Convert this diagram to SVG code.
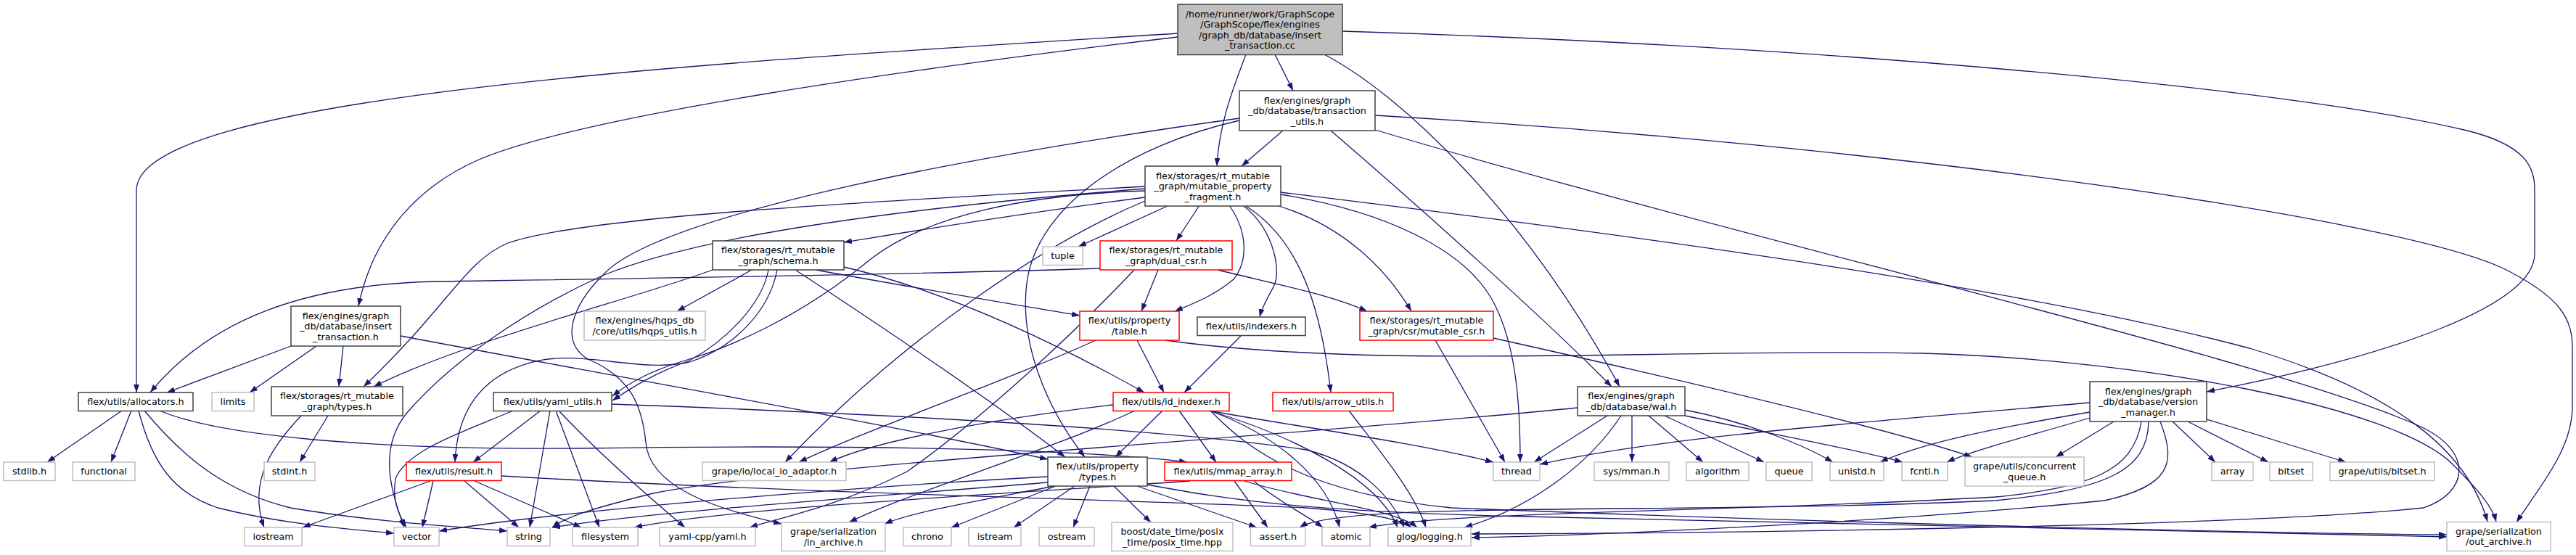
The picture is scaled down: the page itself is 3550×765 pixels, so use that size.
<svg xmlns="http://www.w3.org/2000/svg" width="3550" height="765" viewBox="0 0 3550 765">
<defs>
<marker id="a" markerWidth="11" markerHeight="8" refX="11" refY="4" orient="auto" markerUnits="userSpaceOnUse"><path d="M0,0 L11,4 L0,8 z" fill="#191970"/></marker>
<style>
rect{stroke-width:1.5}
.k{fill:#fff;stroke:#404040}
.g{fill:#fff;stroke:#bfbfbf}
.r{fill:#fff;stroke:#ff0000}
.root{fill:#bfbfbf;stroke:#404040}
text{font-family:"DejaVu Sans","Liberation Sans",sans-serif;font-size:12.8px;text-anchor:middle;fill:#000}
#edges path{fill:none;stroke:#191970;stroke-width:1.3;marker-end:url(#a)}
</style>
</defs>
<rect width="3550" height="765" fill="#fff"/>
<g id="edges">
<path d="M1623,46 C1000,85 188,130 188,262 L188,541"/>
<path d="M1623,51 C1250,95 800,160 660,220 C580,255 515,320 494,422"/>
<path d="M1757,75 L1782,125"/>
<path d="M1717,75 C1700,120 1680,170 1677,229"/>
<path d="M1825,75 C1930,130 2100,290 2232,533"/>
<path d="M1850,43 C2500,63 3150,120 3400,180 C3480,200 3493,230 3493,260 L3493,350 C3493,420 3300,490 3041,540"/>
<path d="M1768,180 L1711,229"/>
<path d="M1834,180 C1950,280 2130,440 2221,533"/>
<path d="M1895,159 C2600,200 3300,300 3450,370 C3530,410 3545,440 3545,480 L3545,560 C3545,620 3500,670 3468,720"/>
<path d="M1708,166 C1560,200 1430,280 1415,390 C1405,470 1440,560 1495,630"/>
<path d="M1708,163 C1300,220 900,300 830,380 C790,420 770,470 810,495 C870,520 885,560 890,610 C895,670 980,700 1077,722"/>
<path d="M1895,179 C2400,330 3150,500 3340,590 C3410,625 3400,680 3340,700 C3100,725 2400,735 2028,736"/>
<path d="M401,477 L230,541"/>
<path d="M436,477 L344,541"/>
<path d="M473,477 L467,533"/>
<path d="M552,463 C800,510 1200,580 1444,633"/>
<path d="M1578,272 C1400,295 1250,320 1163,334"/>
<path d="M1611,283 L1486,340"/>
<path d="M1653,283 L1621,332"/>
<path d="M1694,283 C1720,320 1720,360 1700,385 C1670,410 1640,420 1619,429"/>
<path d="M1713,283 C1760,320 1765,380 1755,395 C1748,410 1740,420 1736,437"/>
<path d="M1717,284 C1790,330 1820,420 1834,541"/>
<path d="M1759,283 C1850,310 1910,370 1945,429"/>
<path d="M1765,268 C1900,290 2020,340 2060,420 C2090,480 2095,560 2095,637"/>
<path d="M1765,265 C2300,330 2800,400 3100,480 C3300,540 3400,620 3428,719"/>
<path d="M1578,257 C1150,280 800,300 700,335 C640,360 620,420 501,533"/>
<path d="M1578,260 C1200,290 950,330 830,380 C720,430 620,500 560,570 C520,620 540,680 557,727"/>
<path d="M1578,263 C1420,268 1280,295 1200,357 C1100,440 1000,480 950,495 C900,510 870,525 844,546"/>
<path d="M1578,277 C1450,330 1250,460 1082,637"/>
<path d="M982,372 C880,410 640,470 515,533"/>
<path d="M1036,372 L933,429"/>
<path d="M1059,372 C1050,420 1000,470 950,497 C900,515 870,535 844,552"/>
<path d="M1071,372 C1060,430 1010,480 950,499 C880,515 800,480 730,500 C660,520 630,570 627,637"/>
<path d="M1096,372 C1200,440 1350,540 1468,630"/>
<path d="M1124,372 C1250,395 1400,420 1488,435"/>
<path d="M1163,368 C1300,400 1450,470 1577,541"/>
<path d="M1516,370 C1200,380 800,385 600,388 C420,392 290,440 207,541"/>
<path d="M1596,372 L1573,429"/>
<path d="M1678,372 C1750,390 1830,405 1884,429"/>
<path d="M1563,372 C1480,460 1350,580 1250,650 C1150,700 1080,712 1033,727"/>
<path d="M1510,469 C1400,520 1200,590 1101,637"/>
<path d="M1567,469 L1604,541"/>
<path d="M1606,469 C1900,510 2300,480 2650,487 C2950,495 3300,560 3380,640 C3420,680 3435,700 3440,719"/>
<path d="M1711,462 L1632,541"/>
<path d="M1978,469 L2074,637"/>
<path d="M2058,466 C2300,520 2600,590 2718,630"/>
<path d="M168,566 L65,637"/>
<path d="M181,566 L153,637"/>
<path d="M191,566 C210,640 240,680 300,700 C380,720 460,728 543,735"/>
<path d="M199,566 C260,640 320,680 400,700 C520,720 620,725 699,732"/>
<path d="M220,566 C300,600 500,620 800,618 C1200,612 1500,620 1636,637"/>
<path d="M452,573 L413,637"/>
<path d="M415,573 C380,610 340,660 364,727"/>
<path d="M707,566 C640,595 560,620 545,660 C540,690 550,710 560,727"/>
<path d="M745,566 L652,637"/>
<path d="M758,566 L730,727"/>
<path d="M766,566 L826,727"/>
<path d="M770,566 C830,630 900,690 944,727"/>
<path d="M843,557 C1200,570 1600,590 1800,620 C1880,640 1920,690 1935,727"/>
<path d="M593,663 L417,727"/>
<path d="M597,663 L582,727"/>
<path d="M640,663 L715,727"/>
<path d="M654,663 L801,727"/>
<path d="M691,656 C1100,680 1600,690 1800,700 C1880,706 1930,715 1945,727"/>
<path d="M1602,566 L1537,630"/>
<path d="M1625,566 L1676,637"/>
<path d="M1534,558 C1350,580 1200,610 1143,637"/>
<path d="M1564,566 C1450,620 1250,680 1170,720"/>
<path d="M1665,566 C1800,590 1950,610 2058,637"/>
<path d="M1667,566 C1760,600 1830,660 1846,727"/>
<path d="M1666,566 C1780,600 1900,660 1926,727"/>
<path d="M1668,566 C1720,620 1800,680 2000,700 C2500,720 3100,735 3372,737"/>
<path d="M1455,670 L1311,727"/>
<path d="M1481,670 L1397,727"/>
<path d="M1502,670 L1479,727"/>
<path d="M1535,670 L1586,720"/>
<path d="M1567,670 L1732,727"/>
<path d="M1444,657 C1200,670 800,700 605,732"/>
<path d="M1444,665 C1200,685 900,705 761,727"/>
<path d="M1453,670 C1350,690 1260,705 1219,722"/>
<path d="M1581,668 C1700,690 1800,705 2100,712 C2600,722 3100,735 3372,740"/>
<path d="M1640,663 C1400,680 1000,700 874,727"/>
<path d="M1701,663 L1747,727"/>
<path d="M1728,663 C1760,690 1800,710 1823,727"/>
<path d="M1715,663 C1800,690 1920,700 1953,727"/>
<path d="M1859,566 C1900,620 1950,680 1965,727"/>
<path d="M2174,562 C1800,600 1100,640 900,680 C820,700 780,712 761,727"/>
<path d="M2215,573 L2114,637"/>
<path d="M2234,573 C2190,640 2110,700 2018,727"/>
<path d="M2249,573 L2249,637"/>
<path d="M2272,573 L2347,637"/>
<path d="M2294,573 L2431,637"/>
<path d="M2322,565 C2400,580 2480,610 2526,637"/>
<path d="M2322,573 C2450,600 2560,620 2622,637"/>
<path d="M2880,555 C2600,580 2300,600 2122,640"/>
<path d="M2880,568 C2750,590 2650,610 2591,637"/>
<path d="M2880,576 C2800,600 2720,620 2683,637"/>
<path d="M2913,581 L2833,630"/>
<path d="M2951,581 C2940,650 2880,672 2750,685 C2400,705 2000,705 1886,727"/>
<path d="M2961,581 C2960,650 2900,675 2750,690 C2300,710 1850,690 1791,727"/>
<path d="M2977,581 C3000,640 2990,670 2900,690 C2600,720 2200,738 2028,741"/>
<path d="M2994,581 L3053,637"/>
<path d="M3015,581 L3126,637"/>
<path d="M3041,578 L3233,637"/>
</g>
<g id="n_root"><rect class="root" x="1623" y="6" width="227" height="69.5"/><text><tspan x="1736.5" y="23.5">/home/runner/work/GraphScope</tspan><tspan x="1736.5" y="38">/GraphScope/flex/engines</tspan><tspan x="1736.5" y="52.5">/graph_db/database/insert</tspan><tspan x="1736.5" y="67">_transaction.cc</tspan></text></g>
<g id="n_transaction_utils"><rect class="k" x="1708" y="125" width="187" height="55"/><text><tspan x="1801.5" y="142.5">flex/engines/graph</tspan><tspan x="1801.5" y="157">_db/database/transaction</tspan><tspan x="1801.5" y="171.5">_utils.h</tspan></text></g>
<g id="n_mpf"><rect class="k" x="1578" y="229" width="187" height="55"/><text><tspan x="1671.5" y="246.5">flex/storages/rt_mutable</tspan><tspan x="1671.5" y="261">_graph/mutable_property</tspan><tspan x="1671.5" y="275.5">_fragment.h</tspan></text></g>
<g id="n_schema"><rect class="k" x="982" y="332" width="181" height="40"/><text><tspan x="1072.5" y="349.3">flex/storages/rt_mutable</tspan><tspan x="1072.5" y="363.8">_graph/schema.h</tspan></text></g>
<g id="n_tuple"><rect class="g" x="1437" y="340" width="55" height="25.5"/><text x="1464.5" y="357.3">tuple</text></g>
<g id="n_dual_csr"><rect class="r" x="1516" y="332" width="182" height="40"/><text><tspan x="1607" y="349.3">flex/storages/rt_mutable</tspan><tspan x="1607" y="363.8">_graph/dual_csr.h</tspan></text></g>
<g id="n_insert_transaction_h"><rect class="k" x="401" y="422" width="151" height="55"/><text><tspan x="476.5" y="439.5">flex/engines/graph</tspan><tspan x="476.5" y="454">_db/database/insert</tspan><tspan x="476.5" y="468.5">_transaction.h</tspan></text></g>
<g id="n_hqps_utils"><rect class="g" x="805" y="429" width="167" height="40"/><text><tspan x="888.5" y="446.3">flex/engines/hqps_db</tspan><tspan x="888.5" y="460.8">/core/utils/hqps_utils.h</tspan></text></g>
<g id="n_table"><rect class="r" x="1488" y="429" width="137" height="40"/><text><tspan x="1556.5" y="446.3">flex/utils/property</tspan><tspan x="1556.5" y="460.8">/table.h</tspan></text></g>
<g id="n_indexers"><rect class="k" x="1650" y="437" width="149" height="25.5"/><text x="1724.5" y="454.3">flex/utils/indexers.h</text></g>
<g id="n_mutable_csr"><rect class="r" x="1874" y="429" width="184" height="40"/><text><tspan x="1966" y="446.3">flex/storages/rt_mutable</tspan><tspan x="1966" y="460.8">_graph/csr/mutable_csr.h</tspan></text></g>
<g id="n_allocators"><rect class="k" x="108" y="541" width="158" height="25.5"/><text x="187" y="558.3">flex/utils/allocators.h</text></g>
<g id="n_limits"><rect class="g" x="292" y="541" width="58" height="25.5"/><text x="321" y="558.3">limits</text></g>
<g id="n_rt_types"><rect class="k" x="374" y="533" width="181" height="40"/><text><tspan x="464.5" y="550.3">flex/storages/rt_mutable</tspan><tspan x="464.5" y="564.8">_graph/types.h</tspan></text></g>
<g id="n_yaml_utils"><rect class="k" x="680" y="541" width="163" height="25.5"/><text x="761.5" y="558.3">flex/utils/yaml_utils.h</text></g>
<g id="n_id_indexer"><rect class="r" x="1534" y="541" width="160" height="25.5"/><text x="1614" y="558.3">flex/utils/id_indexer.h</text></g>
<g id="n_arrow_utils"><rect class="r" x="1754" y="541" width="166" height="25.5"/><text x="1837" y="558.3">flex/utils/arrow_utils.h</text></g>
<g id="n_wal"><rect class="k" x="2174" y="533" width="148" height="40"/><text><tspan x="2248" y="550.3">flex/engines/graph</tspan><tspan x="2248" y="564.8">_db/database/wal.h</tspan></text></g>
<g id="n_version_manager"><rect class="k" x="2880" y="526" width="161" height="55"/><text><tspan x="2960.5" y="543.5">flex/engines/graph</tspan><tspan x="2960.5" y="558">_db/database/version</tspan><tspan x="2960.5" y="572.5">_manager.h</tspan></text></g>
<g id="n_stdlib"><rect class="g" x="5" y="637" width="71" height="25.5"/><text x="40.5" y="654.3">stdlib.h</text></g>
<g id="n_functional"><rect class="g" x="100" y="637" width="86" height="25.5"/><text x="143" y="654.3">functional</text></g>
<g id="n_stdint"><rect class="g" x="364" y="637" width="70" height="25.5"/><text x="399" y="654.3">stdint.h</text></g>
<g id="n_result"><rect class="r" x="560" y="637" width="131" height="25.5"/><text x="625.5" y="654.3">flex/utils/result.h</text></g>
<g id="n_local_io_adaptor"><rect class="g" x="968" y="637" width="198" height="25.5"/><text x="1067" y="654.3">grape/io/local_io_adaptor.h</text></g>
<g id="n_property_types"><rect class="k" x="1444" y="630" width="137" height="40"/><text><tspan x="1512.5" y="647.3">flex/utils/property</tspan><tspan x="1512.5" y="661.8">/types.h</tspan></text></g>
<g id="n_mmap_array"><rect class="r" x="1605" y="637" width="175" height="25.5"/><text x="1692.5" y="654.3">flex/utils/mmap_array.h</text></g>
<g id="n_thread"><rect class="g" x="2058" y="637" width="64" height="25.5"/><text x="2090" y="654.3">thread</text></g>
<g id="n_sys_mman"><rect class="g" x="2197" y="637" width="103" height="25.5"/><text x="2248.5" y="654.3">sys/mman.h</text></g>
<g id="n_algorithm"><rect class="g" x="2324" y="637" width="86" height="25.5"/><text x="2367" y="654.3">algorithm</text></g>
<g id="n_queue"><rect class="g" x="2434" y="637" width="63" height="25.5"/><text x="2465.5" y="654.3">queue</text></g>
<g id="n_unistd"><rect class="g" x="2522" y="637" width="74" height="25.5"/><text x="2559" y="654.3">unistd.h</text></g>
<g id="n_fcntl"><rect class="g" x="2621" y="637" width="63" height="25.5"/><text x="2652.5" y="654.3">fcntl.h</text></g>
<g id="n_concurrent_queue"><rect class="g" x="2708" y="630" width="164" height="40"/><text><tspan x="2790" y="647.3">grape/utils/concurrent</tspan><tspan x="2790" y="661.8">_queue.h</tspan></text></g>
<g id="n_array"><rect class="g" x="3048" y="637" width="57" height="25.5"/><text x="3076.5" y="654.3">array</text></g>
<g id="n_bitset"><rect class="g" x="3128" y="637" width="59" height="25.5"/><text x="3157.5" y="654.3">bitset</text></g>
<g id="n_grape_bitset"><rect class="g" x="3211" y="637" width="144" height="25.5"/><text x="3283" y="654.3">grape/utils/bitset.h</text></g>
<g id="n_iostream"><rect class="g" x="337" y="727" width="79" height="25.5"/><text x="376.5" y="744.3">iostream</text></g>
<g id="n_vector"><rect class="g" x="543" y="727" width="62" height="25.5"/><text x="574" y="744.3">vector</text></g>
<g id="n_string"><rect class="g" x="699" y="727" width="59" height="25.5"/><text x="728.5" y="744.3">string</text></g>
<g id="n_filesystem"><rect class="g" x="789" y="727" width="90" height="25.5"/><text x="834" y="744.3">filesystem</text></g>
<g id="n_yaml_cpp"><rect class="g" x="909" y="727" width="132" height="25.5"/><text x="975" y="744.3">yaml-cpp/yaml.h</text></g>
<g id="n_in_archive"><rect class="g" x="1077" y="720" width="143" height="39.5"/><text><tspan x="1148.5" y="737">grape/serialization</tspan><tspan x="1148.5" y="751.5">/in_archive.h</tspan></text></g>
<g id="n_chrono"><rect class="g" x="1245" y="727" width="66" height="25.5"/><text x="1278" y="744.3">chrono</text></g>
<g id="n_istream"><rect class="g" x="1335" y="727" width="72" height="25.5"/><text x="1371" y="744.3">istream</text></g>
<g id="n_ostream"><rect class="g" x="1432" y="727" width="76" height="25.5"/><text x="1470" y="744.3">ostream</text></g>
<g id="n_boost"><rect class="g" x="1532" y="720" width="167" height="39.5"/><text><tspan x="1615.5" y="737">boost/date_time/posix</tspan><tspan x="1615.5" y="751.5">_time/posix_time.hpp</tspan></text></g>
<g id="n_assert"><rect class="g" x="1723.5" y="727" width="75.5" height="25.5"/><text x="1761.3" y="744.3">assert.h</text></g>
<g id="n_atomic"><rect class="g" x="1822" y="727" width="66" height="25.5"/><text x="1855" y="744.3">atomic</text></g>
<g id="n_glog"><rect class="g" x="1913" y="727" width="114" height="25.5"/><text x="1970" y="744.3">glog/logging.h</text></g>
<g id="n_out_archive"><rect class="g" x="3372" y="719.5" width="143" height="40"/><text><tspan x="3443.5" y="736.8">grape/serialization</tspan><tspan x="3443.5" y="751.3">/out_archive.h</tspan></text></g>
</svg>
